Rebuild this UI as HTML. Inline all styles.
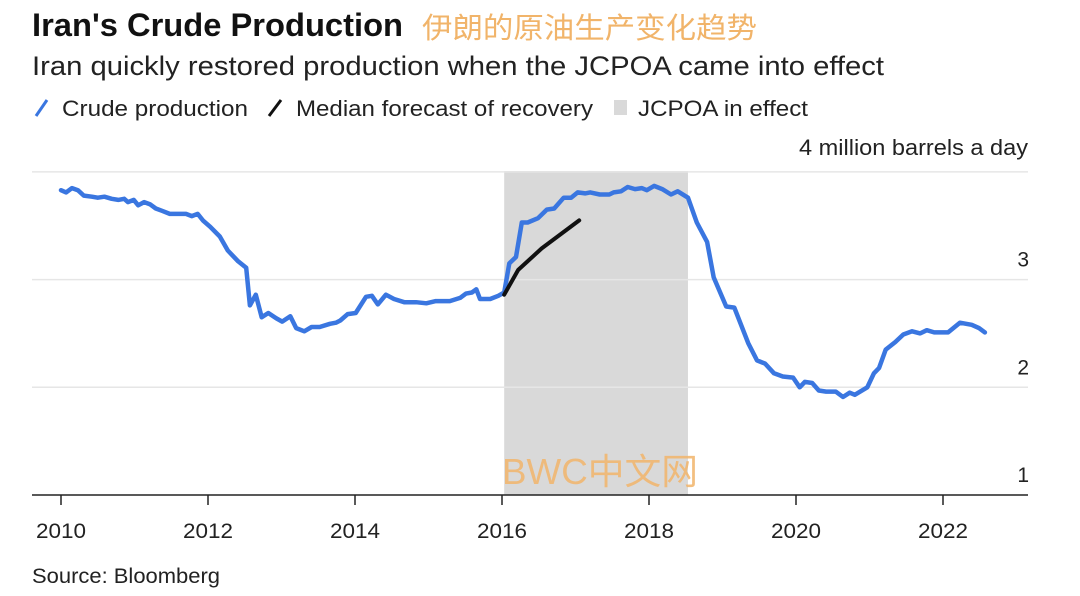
<!DOCTYPE html>
<html><head><meta charset="utf-8"><style>
html,body{margin:0;padding:0;background:#fff}
svg{display:block}
text{font-family:"Liberation Sans","Noto Sans CJK SC",sans-serif}
</style></head><body>
<svg id="chart" width="1080" height="596" viewBox="0 0 1080 596" xmlns="http://www.w3.org/2000/svg">
<text x="32" y="36" font-size="32" font-weight="bold" fill="#111" textLength="371" lengthAdjust="spacingAndGlyphs">Iran's Crude Production</text>
<text x="422" y="38" font-size="29" fill="#f1b46a" textLength="335" lengthAdjust="spacingAndGlyphs" style="font-family:'Noto Sans CJK SC',sans-serif">伊朗的原油生产变化趋势</text>
<text x="32" y="75" font-size="27" fill="#222" textLength="852" lengthAdjust="spacingAndGlyphs">Iran quickly restored production when the JCPOA came into effect</text>
<g>
<line x1="36" y1="116" x2="47" y2="100" stroke="#3a76e0" stroke-width="3"/>
<text x="62" y="116" font-size="22" fill="#222" textLength="186" lengthAdjust="spacingAndGlyphs">Crude production</text>
<line x1="269" y1="116" x2="281" y2="100" stroke="#111" stroke-width="3"/>
<text x="296" y="116" font-size="22" fill="#222" textLength="297" lengthAdjust="spacingAndGlyphs">Median forecast of recovery</text>
<rect x="614" y="100" width="13" height="15" fill="#d9d9d9"/>
<text x="638" y="116" font-size="22" fill="#222" textLength="170" lengthAdjust="spacingAndGlyphs">JCPOA in effect</text>
</g>
<text x="1028" y="155" font-size="22" fill="#222" text-anchor="end" textLength="229" lengthAdjust="spacingAndGlyphs">4 million barrels a day</text>
<g id="plot"></g>
<text x="600" y="484" font-size="36" fill="#f1b46a" fill-opacity="0.85" text-anchor="middle" textLength="196" lengthAdjust="spacingAndGlyphs">BWC中文网</text>
<text x="32" y="583" font-size="21" fill="#222" textLength="188" lengthAdjust="spacingAndGlyphs">Source: Bloomberg</text>
</svg>
<script>
const yTicks = [1, 2, 3, 4];
const xTicks = [2010, 2012, 2014, 2016, 2018, 2020, 2022];
const jcpoa = [2016.03, 2018.53];
const crudeYears = [2010.00,2010.07,2010.15,2010.23,2010.31,2010.42,2010.50,2010.59,2010.69,2010.78,2010.86,2010.91,2010.99,2011.05,2011.13,2011.21,2011.29,2011.37,2011.48,2011.59,2011.70,2011.78,2011.86,2011.93,2012.03,2012.16,2012.27,2012.41,2012.52,2012.57,2012.65,2012.73,2012.82,2012.93,2013.01,2013.12,2013.20,2013.31,2013.41,2013.52,2013.66,2013.74,2013.80,2013.90,2014.01,2014.15,2014.23,2014.31,2014.42,2014.53,2014.67,2014.83,2014.97,2015.10,2015.29,2015.43,2015.51,2015.59,2015.65,2015.70,2015.84,2015.95,2016.03,2016.10,2016.19,2016.27,2016.35,2016.49,2016.61,2016.71,2016.84,2016.94,2017.03,2017.13,2017.20,2017.33,2017.46,2017.52,2017.62,2017.71,2017.81,2017.90,2017.97,2018.07,2018.18,2018.30,2018.39,2018.53,2018.65,2018.79,2018.88,2019.05,2019.16,2019.35,2019.47,2019.58,2019.70,2019.82,2019.96,2020.05,2020.12,2020.22,2020.31,2020.41,2020.54,2020.64,2020.73,2020.80,2020.97,2021.06,2021.13,2021.22,2021.35,2021.46,2021.58,2021.69,2021.78,2021.88,2022.07,2022.23,2022.39,2022.49,2022.57];
const crudeValues = [3.83,3.81,3.85,3.83,3.78,3.77,3.76,3.77,3.75,3.74,3.75,3.72,3.74,3.69,3.72,3.70,3.66,3.64,3.61,3.61,3.61,3.59,3.61,3.55,3.49,3.40,3.27,3.17,3.11,2.76,2.86,2.65,2.69,2.64,2.61,2.66,2.55,2.52,2.56,2.56,2.59,2.60,2.62,2.68,2.69,2.84,2.85,2.77,2.86,2.82,2.79,2.79,2.78,2.80,2.80,2.83,2.87,2.88,2.91,2.82,2.82,2.85,2.88,3.15,3.21,3.53,3.53,3.57,3.65,3.66,3.76,3.76,3.81,3.80,3.81,3.79,3.79,3.81,3.82,3.86,3.84,3.85,3.83,3.87,3.84,3.79,3.82,3.76,3.53,3.35,3.02,2.75,2.74,2.41,2.25,2.22,2.13,2.10,2.09,2.00,2.05,2.04,1.97,1.96,1.96,1.91,1.95,1.93,2.00,2.13,2.18,2.35,2.42,2.49,2.52,2.50,2.53,2.51,2.51,2.60,2.58,2.55,2.51];
const forecastYears = [2016.03, 2016.22, 2016.54, 2017.05];
const forecastValues = [2.86, 3.09, 3.29, 3.55];

const NS = 'http://www.w3.org/2000/svg';
const xS = y => 61 + (y - 2010) * 73.5;
const yS = v => 495 - (v - 1) * 107.7;
const plot = document.getElementById('plot');
function mk(tag, attrs) { const e = document.createElementNS(NS, tag); for (const k in attrs) e.setAttribute(k, attrs[k]); plot.appendChild(e); return e; }

const band = mk('rect', {x: xS(jcpoa[0]), y: 171, width: xS(jcpoa[1]) - xS(jcpoa[0]), height: 324, fill: '#d9d9d9'});



yTicks.forEach(v => {
  if (v > 1) {
    const g = mk('line', {x1: 32, x2: 1028, y1: yS(v), y2: yS(v), stroke: '#e6e6e6', 'stroke-width': 1.5});
    
    
  }
  if (v < 4) {
    const t = mk('text', {x: 1029, y: yS(v) - 13, 'font-size': 21, fill: '#222', 'text-anchor': 'end'});
    t.textContent = v;
    
    
  }
});

const ax = mk('line', {x1: 32, x2: 1028, y1: 495, y2: 495, stroke: '#222', 'stroke-width': 1.5});



xTicks.forEach(yr => {
  const tk = mk('line', {x1: xS(yr), x2: xS(yr), y1: 495, y2: 505, stroke: '#222', 'stroke-width': 1.5});
  
  
  const t = mk('text', {x: xS(yr), y: 538, 'font-size': 21, fill: '#222', 'text-anchor': 'middle', textLength: 50, lengthAdjust: 'spacingAndGlyphs'});
  t.textContent = yr;
  
  
});

const crude = mk('polyline', {points: crudeYears.map((y, i) => xS(y).toFixed(1) + ',' + yS(crudeValues[i]).toFixed(1)).join(' '), fill: 'none', stroke: '#3a76e0', 'stroke-width': 4.5, 'stroke-linejoin': 'round', 'stroke-linecap': 'round'});



const fc = mk('polyline', {points: forecastYears.map((y, i) => xS(y).toFixed(1) + ',' + yS(forecastValues[i]).toFixed(1)).join(' '), fill: 'none', stroke: '#111', 'stroke-width': 4, 'stroke-linejoin': 'round', 'stroke-linecap': 'round'});


</script>
</body></html>
